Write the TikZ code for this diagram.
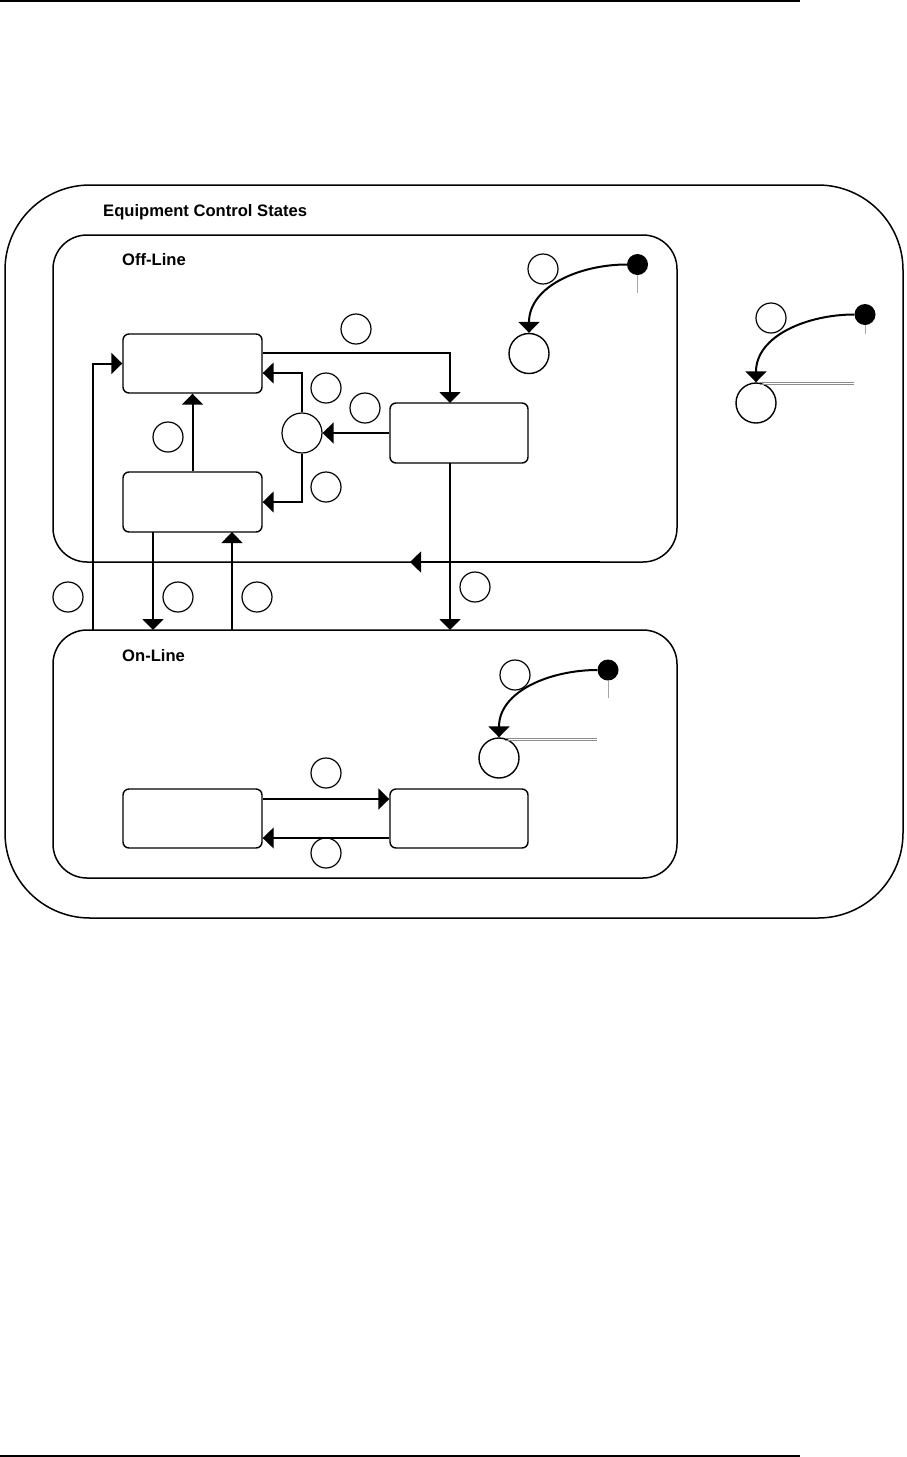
\documentclass[tikz,border=0pt]{standalone}
\usepackage{fontspec}
\setmainfont{Liberation Sans}
\usetikzlibrary{arrows.meta,calc}
\begin{document}
\begin{tikzpicture}[x=1pt,y=-1pt,
  >={Triangle[length=11pt,width=21pt]},
  container/.style={draw, line width=1.5pt, rounded corners=34pt, inner sep=0pt},
  outerbox/.style={draw, line width=1.5pt, rounded corners=85pt, inner sep=0pt},
  stbox/.style={draw, line width=1.4pt, rounded corners=6pt, minimum width=139pt, minimum height=59pt, inner sep=0pt},
  lbl/.style={draw, circle, line width=1.2pt, minimum size=30pt, inner sep=0pt},
  junc/.style={draw, circle, line width=1.2pt, minimum size=40pt, inner sep=0pt},
  target/.style={draw, circle, line width=1.4pt, minimum size=40pt, inner sep=0pt},
  dot/.style={fill, circle, minimum size=21pt, inner sep=0pt},
  heavy/.style={line width=2pt},
  light/.style={line width=1.1pt},
  tick/.style={draw=black!35, line width=0.9pt},
  dbl/.style={draw=black!45, line width=0.8pt},
  ttl/.style={anchor=base west, font=\bfseries\fontsize{16.6}{18}\selectfont, inner sep=0pt},
  rule/.style={line width=2pt}]
\useasboundingbox (0,0) rectangle (906,1457);

% page rules
\coordinate (r1a) at (0,1); \coordinate (r1b) at (800,1);
\coordinate (r2a) at (0,1456); \coordinate (r2b) at (800,1456);
\draw[rule] (r1a) -- (r1b);
\draw[rule] (r2a) -- (r2b);

% containers
\node[outerbox, minimum width=898pt, minimum height=733pt] (outer) at (454,551.5) {};
\node[container, minimum width=624pt, minimum height=327pt] (off) at (365,398.5) {};
\node[container, minimum width=624pt, minimum height=248pt] (on) at (365,754) {};

\node[ttl] (t0) at (103,216) {Equipment Control States};
\node[ttl] (t1) at (122,265) {Off-Line};
\node[ttl] (t2) at (122,661) {On-Line};

% states
\node[stbox] (A) at (192.5,363.5) {};
\node[stbox, minimum height=60pt] (B) at (192.5,502) {};
\node[stbox, minimum width=138pt, minimum height=60pt] (C) at (459,433) {};
\node[stbox] (D) at (192.5,818.5) {};
\node[stbox, minimum width=138pt] (E) at (459,818.5) {};
\node[junc] (J) at (302,433) {};

% label circles
\node[lbl] (c1) at (356,329) {};
\node[lbl] (c2) at (326,388) {};
\node[lbl] (c3) at (365,408) {};
\node[lbl] (c4) at (326,487) {};
\node[lbl] (c5) at (168,437) {};
\node[lbl] (c6) at (68,597) {};
\node[lbl] (c7) at (178,597) {};
\node[lbl] (c8) at (257,597) {};
\node[lbl] (c9) at (475,587) {};
\node[lbl] (c10) at (326,773) {};
\node[lbl] (c11) at (326,853) {};
\node[lbl] (c12) at (543,269) {};
\node[lbl] (c13) at (771,318) {};
\node[lbl] (c14) at (515,675) {};

% initial pseudo-states
\node[dot] (d1) at (637.5,264.5) {};
\node[target] (s1) at (529,353.5) {};
\node[dot] (d2) at (865,314.5) {};
\node[target] (s2) at (756,403) {};
\node[dot] (d3) at (608,670) {};
\node[target] (s3) at (499,758) {};

\coordinate (k1) at (637.5,293); \coordinate (k2) at (865,334); \coordinate (k3) at (608,698);
\draw[tick] (d1.south) -- (k1);
\draw[tick] (d2.south) -- (k2);
\draw[tick] (d3.south) -- (k3);

\draw[heavy, ->] (d1.west) to[out=180,in=90] (s1.north);
\draw[heavy, ->] (d2.west) to[out=180,in=90] (s2.north);
\draw[heavy, ->] (d3.west) to[out=180,in=90] (s3.north);

% double grey lines
\coordinate (g1a) at (760,382.3); \coordinate (g1b) at (854,382.3);
\coordinate (g2a) at (760,384.5); \coordinate (g2b) at (854,384.5);
\coordinate (g3a) at (505,738.2); \coordinate (g3b) at (597,738.2);
\coordinate (g4a) at (505,740.4); \coordinate (g4b) at (597,740.4);
\draw[dbl] (g1a) -- (g1b); \draw[dbl] (g2a) -- (g2b);
\draw[dbl] (g3a) -- (g3b); \draw[dbl] (g4a) -- (g4b);

% off-line transitions
\coordinate (ac) at (450,403);
\draw[heavy, ->] ($(A.east)+(0,-10.5)$) -| (ac);
\draw[heavy, ->] (C.west) -- (J.east);
\draw[line width=1.5pt, ->] (J.north) |- ($(A.east)+(0,9.5)$);
\draw[line width=1.5pt, ->] (J.south) |- (B.east);
\draw[heavy, ->] (B.north) -- (A.south);

% between off-line and on-line
\coordinate (l0) at (93,630);
\draw[heavy, ->] (l0) |- (A.west);
\coordinate (bo1) at (153,532); \coordinate (bo2) at (153,630);
\draw[heavy, ->] (bo1) -- (bo2);
\coordinate (ob1) at (232,630); \coordinate (ob2) at (232,532);
\draw[light, ->] (ob1) -- (ob2);
\coordinate (co1) at (450,463); \coordinate (co2) at (450,630);
\draw[heavy, ->] (co1) -- (co2);
\coordinate (fb1) at (600,562); \coordinate (fb2) at (410,562);
\draw[line width=1.5pt, ->] (fb1) -- (fb2);

% on-line transitions
\draw[heavy, ->] ($(D.east)+(0,-19.5)$) -- ($(E.west)+(0,-19.5)$);
\draw[light, ->] ($(E.west)+(0,19.5)$) -- ($(D.east)+(0,19.5)$);
\end{tikzpicture}
\end{document}
